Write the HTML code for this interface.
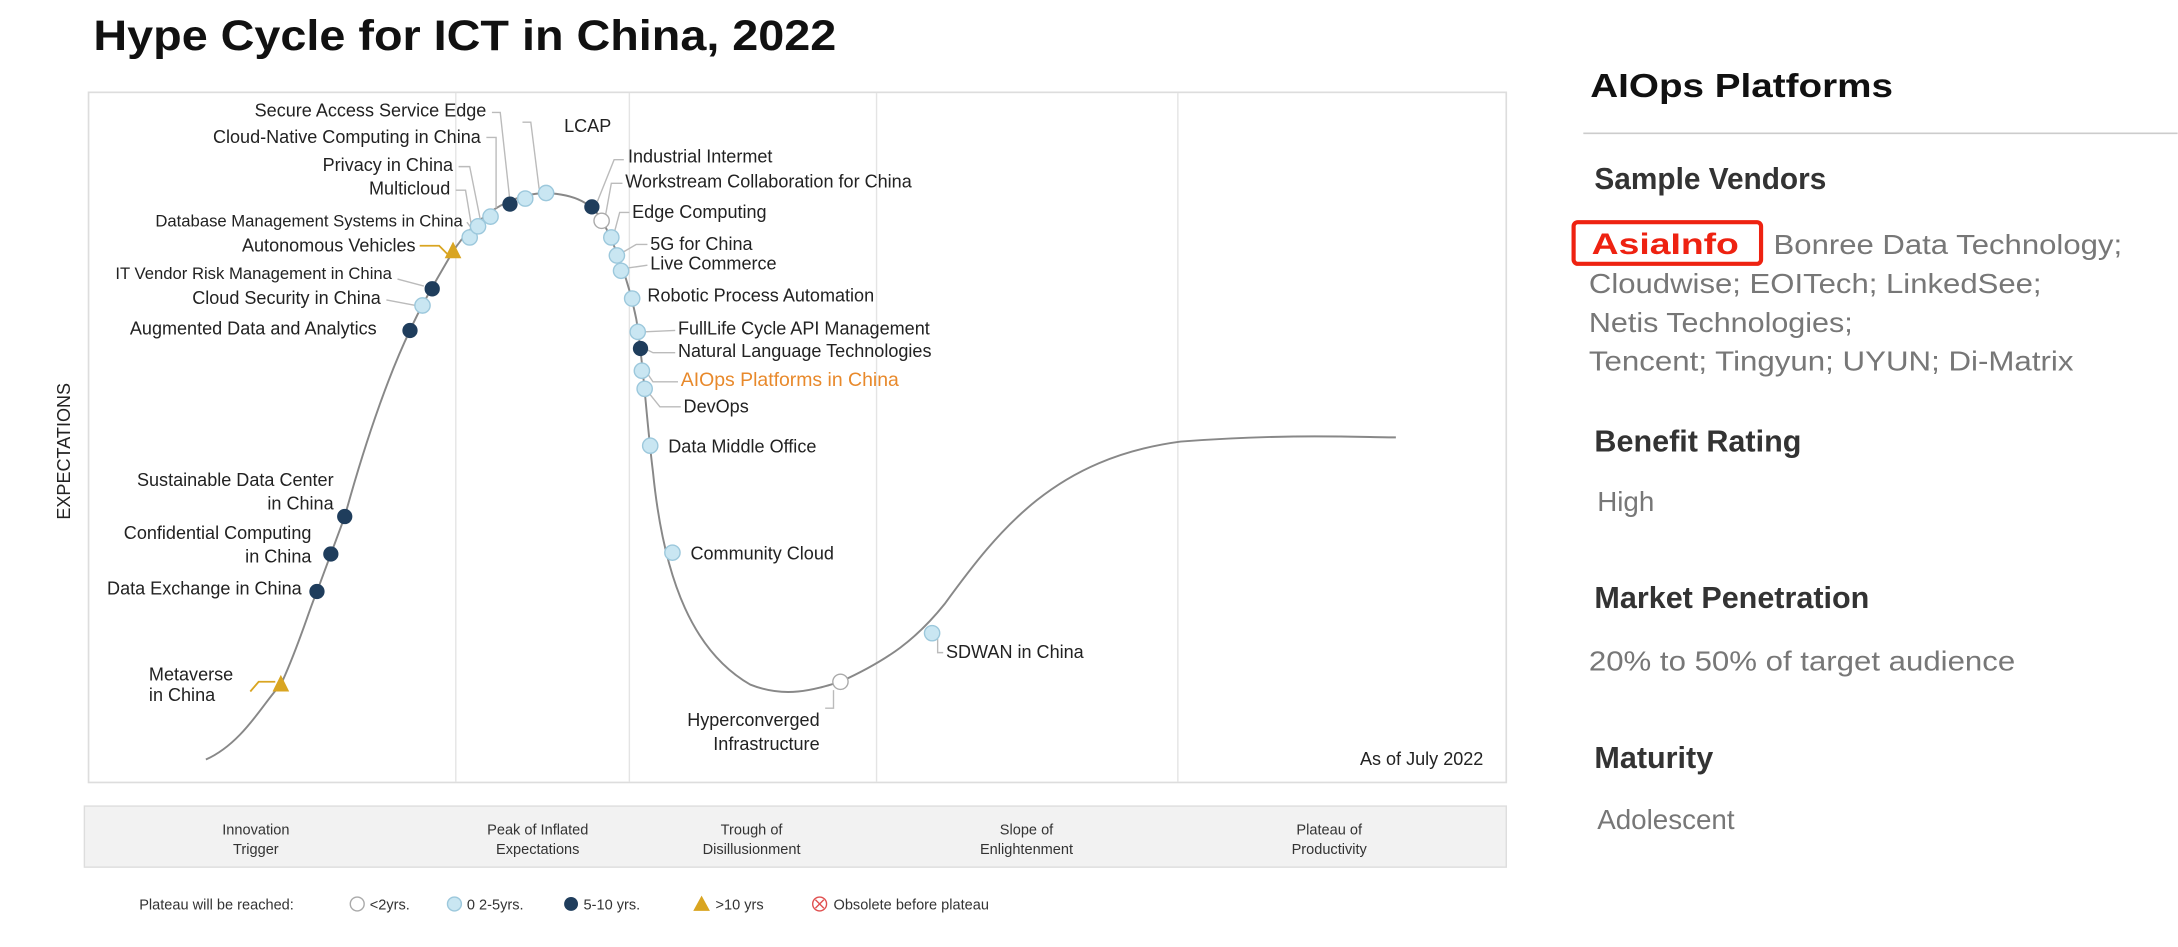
<!DOCTYPE html>
<html><head><meta charset="utf-8"><style>
html,body{margin:0;padding:0;background:#fff;width:2178px;height:947px;overflow:hidden}
svg{display:block}
text{font-family:"Liberation Sans",sans-serif}
</style></head><body>
<svg width="2178" height="947" viewBox="0 0 1568 682" xmlns="http://www.w3.org/2000/svg">
<rect width="1568" height="682" fill="#fff"/>
<text x="67" y="36" font-size="31" font-weight="bold" fill="#111" textLength="535" lengthAdjust="spacingAndGlyphs">Hype Cycle for ICT in China, 2022</text>
<rect x="63.5" y="66.5" width="1021" height="497" fill="#fff" stroke="#ddd" stroke-width="1.2"/>
<g stroke="#e4e4e4" stroke-width="1">
<line x1="328" y1="67" x2="328" y2="563"/><line x1="453" y1="67" x2="453" y2="563"/>
<line x1="631" y1="67" x2="631" y2="563"/><line x1="848" y1="67" x2="848" y2="563"/>
</g>
<text transform="translate(50,325) rotate(-90)" text-anchor="middle" font-size="13" fill="#222">EXPECTATIONS</text>
<path d="M148,547 C175,535 190,505 202,493 C215,465 222,440 228,426 L238,399 L248,372 C265,310 282,265 295,238 C302,222 312,205 326,181 C340,160 362,140 393,139 C415,140 426,147 433,158 C442,175 452,200 458,230 C463,260 465,300 470,340 C478,420 500,470 540,493 C565,503 585,497 605,491 C640,475 660,460 680,435 C720,380 760,330 850,318 C930,312 980,315 1005,315" fill="none" stroke="#888" stroke-width="1.4"/>
<g stroke="#bbb" stroke-width="1" fill="none">
<path d="M354,81 L360,81 L367,145"/><path d="M350,99 L357,99 L357,150"/><path d="M330,120 L338,120 L346,160"/>
<path d="M328,137 L335,137 L340,167"/><path d="M336,160 L342,168"/><path d="M376,88 L382,88 L388,136"/>
<path d="M449,115 L442,115 L430,145"/><path d="M448,132 L440,132 L436,154"/><path d="M453,153 L446,153 L442,168"/>
<path d="M466,176 L458,176 L446,183"/><path d="M466,191 L452,193"/><path d="M486,238 L464,239"/>
<path d="M486,254 L470,254 L464,251"/><path d="M488,275 L470,275 L466,269"/><path d="M490,293 L475,293 L467,283"/>
<path d="M286,201 L305,206"/><path d="M278,216 L299,220"/><path d="M675,460 L675,470 L679,470"/>
<path d="M600,497 L600,510 L594,510"/>
</g>
<path d="M302,177 L316,177 L322,183" stroke="#d9a521" fill="none" stroke-width="1.3"/>
<path d="M180,498 L186,491 L198,491" stroke="#d9a521" fill="none" stroke-width="1.3"/>
<g fill="#c9e6f2" stroke="#9cc8dc" stroke-width="1">
<circle cx="304" cy="220" r="5.5"/><circle cx="338" cy="171" r="5.5"/><circle cx="344" cy="163" r="5.5"/>
<circle cx="353" cy="156" r="5.5"/><circle cx="378" cy="143" r="5.5"/><circle cx="393" cy="139" r="5.5"/>
<circle cx="440" cy="171" r="5.5"/><circle cx="444" cy="184" r="5.5"/><circle cx="447" cy="195" r="5.5"/>
<circle cx="455" cy="215" r="5.5"/><circle cx="459" cy="239" r="5.5"/><circle cx="462" cy="267" r="5.5"/>
<circle cx="464" cy="280" r="5.5"/><circle cx="468" cy="321" r="5.5"/><circle cx="484" cy="398" r="5.5"/>
<circle cx="671" cy="456" r="5.5"/>
</g>
<g fill="#1f3d5c">
<circle cx="295" cy="238" r="5.5"/><circle cx="311" cy="208" r="5.5"/><circle cx="367" cy="147" r="5.5"/>
<circle cx="426" cy="149" r="5.5"/><circle cx="461" cy="251" r="5.5"/><circle cx="248" cy="372" r="5.5"/>
<circle cx="238" cy="399" r="5.5"/><circle cx="228" cy="426" r="5.5"/>
</g>
<g fill="#fff" stroke="#aaa" stroke-width="1">
<circle cx="433" cy="159" r="5.5"/><circle cx="605" cy="491" r="5.5"/>
</g>
<g fill="#d9a521"><path d="M326,174 L332,186 L320,186Z"/><path d="M202,486 L208,498 L196,498Z"/></g>
<g font-size="13" fill="#222">
<g text-anchor="end">
<text x="350" y="84">Secure Access Service Edge</text>
<text x="346" y="103">Cloud-Native Computing in China</text>
<text x="326" y="123">Privacy in China</text>
<text x="324" y="140">Multicloud</text>
<text x="333" y="163" font-size="12">Database Management Systems in China</text>
<text x="299" y="181">Autonomous Vehicles</text>
<text x="282" y="201" font-size="12">IT Vendor Risk Management in China</text>
<text x="274" y="219">Cloud Security in China</text>
<text x="271" y="241">Augmented Data and Analytics</text>
<text x="240" y="350">Sustainable Data Center</text><text x="240" y="367">in China</text>
<text x="224" y="388">Confidential Computing</text><text x="224" y="405">in China</text>
<text x="217" y="428">Data Exchange in China</text>
<text x="590" y="523">Hyperconverged</text><text x="590" y="540">Infrastructure</text>
<text x="1068" y="551">As of July 2022</text>
</g>
<text x="107" y="490">Metaverse</text><text x="107" y="505">in China</text>
<text x="406" y="95">LCAP</text>
<text x="452" y="117">Industrial Intermet</text>
<text x="450" y="135">Workstream Collaboration for China</text>
<text x="455" y="157">Edge Computing</text>
<text x="468" y="180">5G for China</text>
<text x="468" y="194">Live Commerce</text>
<text x="466" y="217">Robotic Process Automation</text>
<text x="488" y="241">FullLife Cycle API Management</text>
<text x="488" y="257">Natural Language Technologies</text>
<text x="490" y="278" font-size="14" fill="#e8892b">AIOps Platforms in China</text>
<text x="492" y="297">DevOps</text>
<text x="481" y="326">Data Middle Office</text>
<text x="497" y="403">Community Cloud</text>
<text x="681" y="474">SDWAN in China</text>
</g>
<rect x="60.5" y="580.5" width="1024" height="44" fill="#f2f2f2" stroke="#ddd"/>
<g font-size="10.5" fill="#333" text-anchor="middle">
<text x="184" y="601">Innovation</text><text x="184" y="615">Trigger</text>
<text x="387" y="601">Peak of Inflated</text><text x="387" y="615">Expectations</text>
<text x="541" y="601">Trough of</text><text x="541" y="615">Disillusionment</text>
<text x="739" y="601">Slope of</text><text x="739" y="615">Enlightenment</text>
<text x="957" y="601">Plateau of</text><text x="957" y="615">Productivity</text>
</g>
<g font-size="10.5" fill="#333">
<text x="100" y="655">Plateau will be reached:</text>
<circle cx="257" cy="651" r="5" fill="#fff" stroke="#aaa"/><text x="266" y="655">&lt;2yrs.</text>
<circle cx="327" cy="651" r="5" fill="#c9e6f2" stroke="#9cc8dc"/><text x="336" y="655">0 2-5yrs.</text>
<circle cx="411" cy="651" r="5" fill="#1f3d5c"/><text x="420" y="655">5-10 yrs.</text>
<path d="M505,645 L511,656 L499,656Z" fill="#d9a521"/><text x="515" y="655">&gt;10 yrs</text>
<circle cx="590" cy="651" r="5" fill="#fff" stroke="#e05050"/><path d="M587,648 L593,654 M593,648 L587,654" stroke="#e05050"/>
<text x="600" y="655">Obsolete before plateau</text>
</g>
<text x="1145" y="70" font-size="24" font-weight="bold" fill="#111" textLength="218" lengthAdjust="spacingAndGlyphs">AIOps Platforms</text>
<line x1="1140" y1="96" x2="1568" y2="96" stroke="#ccc" stroke-width="1.2"/>
<g font-weight="bold" fill="#333" font-size="22">
<text x="1148" y="136" textLength="167" lengthAdjust="spacingAndGlyphs">Sample Vendors</text>
<text x="1148" y="325">Benefit Rating</text>
<text x="1148" y="438">Market Penetration</text>
<text x="1148" y="553">Maturity</text>
</g>
<rect x="1133" y="160" width="135" height="30" rx="3" fill="none" stroke="#ee2211" stroke-width="3"/>
<text x="1146" y="183" font-size="21" font-weight="bold" fill="#ee2211" textLength="106" lengthAdjust="spacingAndGlyphs">AsiaInfo</text>
<g font-size="20" fill="#777">
<text x="1277" y="183" textLength="251" lengthAdjust="spacingAndGlyphs">Bonree Data Technology;</text>
<text x="1144" y="211" textLength="326" lengthAdjust="spacingAndGlyphs">Cloudwise; EOITech; LinkedSee;</text>
<text x="1144" y="239" textLength="190" lengthAdjust="spacingAndGlyphs">Netis Technologies;</text>
<text x="1144" y="267" textLength="349" lengthAdjust="spacingAndGlyphs">Tencent; Tingyun; UYUN; Di-Matrix</text>
<text x="1150" y="368">High</text>
<text x="1144" y="483" textLength="307" lengthAdjust="spacingAndGlyphs">20% to 50% of target audience</text>
<text x="1150" y="597">Adolescent</text>
</g>
</svg>
</body></html>
